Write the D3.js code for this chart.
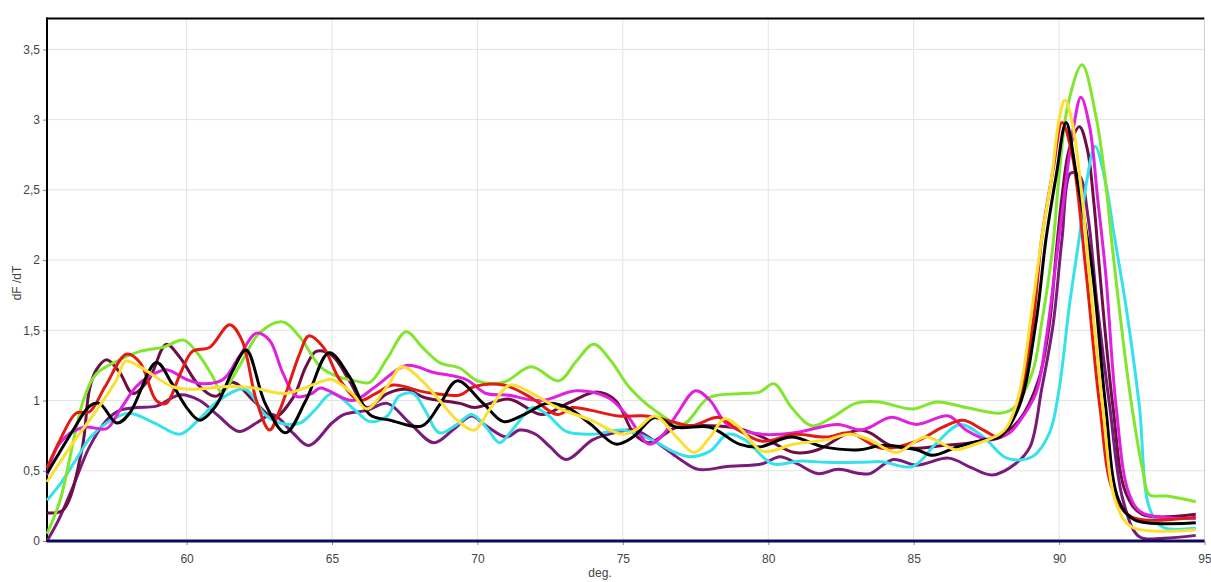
<!DOCTYPE html>
<html>
<head>
<meta charset="utf-8">
<script src="https://cdn.jsdelivr.net/npm/d3@7"></script>
<style>
  html, body { margin: 0; padding: 0; background: #fff; }
  svg { display: block; font-family: "Liberation Sans", Arial, sans-serif; }
</style>
</head>
<body>
<svg id="chart" width="1211" height="582"></svg>
<script>
// Melt curves: derivative of fluorescence (dF/dT) against temperature (deg.)
const xTicks = [60, 65, 70, 75, 80, 85, 90, 95];
const yTicks = [0, 0.5, 1, 1.5, 2, 2.5, 3, 3.5];
const xTitle = "deg.";
const yTitle = "dF /dT";

// Each series: [temperature, dF/dT]
const purpleCurve = [[55.2,0.0],[55.6,0.15],[56.1,0.39],[56.66,0.67],[57.25,0.86],[57.7,0.93],[58.27,0.95],[58.96,0.96],[59.76,1.04],[60.45,1.0],[61.1,0.89],[61.8,0.78],[62.4,0.84],[62.96,0.9],[63.65,0.77],[64.2,0.68],[65.0,0.84],[65.4,0.9],[66.2,0.93],[66.9,0.98],[67.67,0.84],[68.5,0.70],[69.15,0.79],[69.8,0.89],[70.3,0.82],[71.0,0.74],[71.45,0.79],[72.0,0.76],[72.5,0.67],[73.05,0.58],[73.96,0.72],[74.7,0.77],[75.4,0.79],[76.1,0.71],[77.05,0.57],[77.6,0.51],[78.6,0.53],[79.8,0.55],[80.4,0.6],[81.0,0.55],[81.7,0.48],[82.4,0.51],[83.15,0.48],[83.5,0.48],[84.3,0.58],[85.1,0.54],[86.2,0.59],[87.0,0.52],[87.7,0.47],[88.5,0.55],[89.0,0.67],[89.4,1.08],[89.8,1.55],[90.1,2.15],[90.4,2.62],[90.7,2.6],[91.0,2.3],[91.3,1.7],[91.74,0.96],[92.2,0.29],[92.76,0.03],[93.6,0.02],[94.7,0.04]];

const maroonCurve = [[55.2,0.2],[55.75,0.22],[56.4,0.65],[56.66,1.08],[56.9,1.22],[57.25,1.29],[57.7,1.2],[58.15,1.05],[58.7,1.15],[59.3,1.4],[59.76,1.31],[60.45,1.1],[61.0,1.03],[61.58,1.13],[62.3,1.0],[63.0,0.88],[63.66,1.02],[64.1,1.24],[64.46,1.35],[65.0,1.32],[65.6,1.14],[66.2,0.95],[66.9,1.05],[67.55,1.08],[68.2,1.02],[69.4,0.98],[69.9,0.95],[71.1,1.01],[72.2,0.9],[73.1,0.98],[74.1,1.06],[74.75,1.0],[75.4,0.76],[75.9,0.70],[76.85,0.81],[78.0,0.82],[79.0,0.80],[79.8,0.74],[80.9,0.63],[81.7,0.65],[82.65,0.76],[83.15,0.79],[83.5,0.77],[84.2,0.68],[85.0,0.66],[86.0,0.68],[87.0,0.70],[87.95,0.75],[88.63,0.86],[89.3,1.15],[89.67,1.55],[89.9,2.05],[90.1,2.45],[90.35,2.79],[90.7,2.95],[90.97,2.79],[91.2,2.4],[91.4,1.91],[91.85,0.96],[92.3,0.34],[92.86,0.19],[94.7,0.19]];

const cyanCurve = [[55.2,0.29],[55.7,0.42],[56.2,0.58],[56.7,0.74],[57.25,0.84],[58.0,0.91],[58.9,0.84],[59.76,0.76],[60.4,0.86],[61.1,1.0],[62.0,1.08],[62.7,0.90],[63.2,0.84],[63.9,0.84],[64.4,0.93],[65.0,1.05],[65.8,0.93],[66.3,0.85],[66.9,0.89],[67.3,1.03],[67.8,1.05],[68.2,0.93],[68.7,0.77],[69.3,0.83],[69.8,0.9],[70.3,0.81],[70.76,0.7],[71.2,0.79],[71.9,0.95],[72.4,0.9],[73.05,0.78],[73.96,0.76],[75.0,0.79],[76.1,0.71],[76.7,0.64],[77.3,0.6],[78.0,0.64],[78.6,0.76],[79.2,0.72],[80.15,0.55],[81.1,0.57],[82.0,0.56],[83.15,0.56],[83.9,0.565],[84.96,0.53],[85.8,0.70],[86.6,0.83],[87.4,0.74],[88.2,0.59],[89.08,0.6],[89.67,0.77],[90.0,1.08],[90.35,1.67],[90.7,2.17],[90.94,2.55],[91.24,2.81],[91.6,2.55],[91.9,2.17],[92.3,1.67],[92.76,0.96],[93.1,0.24],[93.55,0.10],[94.7,0.09]];

const greenCurve = [[55.2,0.05],[55.65,0.29],[56.45,1.0],[56.9,1.19],[57.6,1.28],[58.4,1.35],[59.2,1.38],[59.9,1.43],[60.4,1.33],[60.9,1.17],[61.2,1.06],[61.8,1.24],[62.5,1.48],[63.3,1.56],[63.9,1.45],[64.6,1.24],[65.2,1.17],[65.8,1.14],[66.3,1.13],[66.9,1.3],[67.55,1.49],[68.1,1.38],[68.7,1.27],[69.4,1.23],[70.0,1.14],[70.9,1.13],[71.85,1.24],[72.8,1.14],[73.4,1.28],[74.0,1.40],[74.6,1.28],[75.2,1.10],[76.1,0.93],[77.05,0.83],[77.95,1.02],[79.1,1.05],[79.7,1.06],[80.2,1.12],[80.8,0.95],[81.5,0.82],[82.2,0.88],[83.0,0.98],[83.8,0.99],[84.96,0.94],[85.8,0.99],[86.8,0.95],[87.95,0.91],[88.4,0.94],[89.08,1.2],[89.4,1.55],[89.77,2.07],[90.0,2.6],[90.3,3.1],[90.79,3.39],[91.27,3.02],[91.6,2.55],[91.8,2.15],[92.2,1.43],[92.5,0.96],[92.9,0.48],[93.1,0.33],[93.7,0.32],[94.7,0.28]];

const magentaCurve = [[55.2,0.47],[55.65,0.70],[56.45,0.81],[57.25,0.8],[57.7,0.93],[58.27,1.1],[58.7,1.17],[59.3,1.22],[60.0,1.15],[60.55,1.12],[61.25,1.15],[61.8,1.31],[62.4,1.48],[62.85,1.43],[63.3,1.2],[63.77,1.03],[64.3,1.05],[64.6,1.09],[65.7,1.0],[66.5,1.1],[67.55,1.25],[68.5,1.2],[69.6,1.15],[70.3,1.05],[71.0,1.04],[72.2,1.0],[73.4,1.07],[74.5,1.02],[75.2,0.88],[75.9,0.69],[76.4,0.76],[76.85,0.9],[77.5,1.07],[78.0,1.0],[78.6,0.83],[79.8,0.76],[80.9,0.77],[82.4,0.83],[83.15,0.79],[83.5,0.81],[84.2,0.88],[85.1,0.83],[86.2,0.89],[86.8,0.79],[87.6,0.72],[88.3,0.77],[88.6,0.84],[89.2,1.05],[89.55,1.43],[89.9,2.0],[90.2,2.5],[90.5,2.95],[90.75,3.16],[91.05,2.95],[91.33,2.43],[91.6,1.91],[91.96,0.96],[92.4,0.34],[92.86,0.2],[94.7,0.16]];

const redCurve = [[55.2,0.52],[55.65,0.72],[56.2,0.91],[56.66,0.92],[57.2,1.1],[57.93,1.33],[58.4,1.27],[58.96,1.0],[59.3,0.98],[59.8,1.2],[60.2,1.35],[60.8,1.38],[61.48,1.54],[61.9,1.43],[62.4,1.0],[62.85,0.79],[63.2,0.93],[63.9,1.34],[64.2,1.46],[64.7,1.38],[65.26,1.15],[65.95,1.0],[66.5,1.05],[67.1,1.11],[68.2,1.06],[69.4,1.04],[69.9,1.1],[70.9,1.11],[71.85,1.02],[72.75,0.9],[73.25,0.95],[73.9,0.93],[74.85,0.89],[75.8,0.89],[76.7,0.85],[77.35,0.82],[78.3,0.88],[78.9,0.8],[79.8,0.71],[80.9,0.76],[82.0,0.74],[82.8,0.77],[83.9,0.66],[85.1,0.71],[86.0,0.81],[86.7,0.86],[87.4,0.79],[87.95,0.74],[88.6,1.0],[89.1,1.55],[89.4,2.15],[89.8,2.65],[90.1,2.98],[90.45,2.75],[90.93,1.91],[91.4,0.96],[91.85,0.36],[92.5,0.17],[94.7,0.17]];

const blackCurve = [[55.2,0.48],[55.6,0.62],[56.1,0.79],[56.66,0.96],[57.0,0.98],[57.6,0.84],[58.04,0.91],[58.96,1.27],[59.5,1.12],[60.0,0.95],[60.45,0.86],[61.0,0.96],[61.6,1.22],[62.05,1.36],[62.7,0.98],[63.4,0.77],[64.1,1.0],[64.9,1.34],[65.6,1.17],[66.3,0.9],[67.0,0.86],[68.1,0.82],[68.7,0.97],[69.3,1.14],[70.2,0.98],[70.9,0.85],[71.6,0.9],[72.4,0.98],[73.1,0.95],[73.9,0.83],[74.75,0.69],[75.35,0.74],[76.1,0.88],[76.85,0.81],[78.0,0.81],[79.0,0.69],[79.7,0.67],[80.8,0.74],[81.9,0.67],[83.15,0.65],[83.9,0.68],[85.1,0.65],[85.65,0.61],[86.5,0.67],[87.4,0.72],[87.95,0.74],[88.63,0.96],[89.2,1.55],[89.55,2.15],[89.9,2.6],[90.24,2.98],[90.6,2.6],[91.15,1.91],[91.6,0.96],[92.05,0.29],[92.6,0.15],[94.7,0.13]];

const yellowCurve = [[55.2,0.42],[56.1,0.70],[56.9,0.93],[57.6,1.15],[57.9,1.28],[58.4,1.24],[59.5,1.1],[60.2,1.08],[61.4,1.1],[62.3,1.09],[63.4,1.05],[64.7,1.14],[65.0,1.15],[65.7,1.05],[66.2,0.94],[66.9,1.1],[67.4,1.24],[68.1,1.14],[68.7,1.0],[69.3,0.86],[69.9,0.79],[70.4,0.93],[71.1,1.11],[71.7,1.07],[72.75,0.95],[73.9,0.86],[75.0,0.76],[75.5,0.8],[76.1,0.89],[76.85,0.74],[77.45,0.63],[78.0,0.74],[78.5,0.87],[79.0,0.81],[79.8,0.64],[80.9,0.69],[82.0,0.72],[82.8,0.76],[83.5,0.72],[84.4,0.63],[85.4,0.74],[86.45,0.65],[87.0,0.68],[87.95,0.76],[88.2,0.81],[88.63,1.05],[89.08,1.67],[89.4,2.15],[89.75,2.6],[90.0,3.0],[90.2,3.14],[90.45,2.98],[90.8,2.43],[91.04,1.91],[91.5,0.96],[91.96,0.27],[92.5,0.10],[94.7,0.08]];

const baselineCurve = [[55.2,0],[95,0]];

const seriesList = [
  { data: purpleCurve,   color: "#7a1a7a" },
  { data: maroonCurve,   color: "#6c0f46" },
  { data: cyanCurve,     color: "#36e2ea" },
  { data: greenCurve,    color: "#82e52e" },
  { data: magentaCurve,  color: "#e020dc" },
  { data: redCurve,      color: "#e31b14" },
  { data: blackCurve,    color: "#000000" },
  { data: yellowCurve,   color: "#fbe034" },
  { data: baselineCurve, color: "#0b0b5e" }
];

const svg = d3.select("#chart");
const plotLeft = 47, plotRight = 1204.5, plotTop = 18.5, plotBottom = 541;

const x = d3.scaleLinear().domain([55.2, 95]).range([plotLeft, plotRight]);
const y = d3.scaleLinear().domain([0, 3.72]).range([plotBottom, plotTop]);

// grid
const grid = svg.append("g");
grid.selectAll("line.v").data(xTicks).join("line").attr("class", "v")
  .attr("x1", d => x(d)).attr("x2", d => x(d))
  .attr("y1", plotTop).attr("y2", plotBottom)
  .attr("stroke", "#e3e3e3").attr("stroke-width", 1);
grid.selectAll("line.h").data(yTicks.filter(d => d > 0)).join("line").attr("class", "h")
  .attr("x1", plotLeft).attr("x2", plotRight)
  .attr("y1", d => y(d)).attr("y2", d => y(d))
  .attr("stroke", "#e3e3e3").attr("stroke-width", 1);

// axes
const fmt = d => String(d).replace(".", ",");
const yAxis = svg.append("g").attr("transform", `translate(${plotLeft},0)`)
  .call(d3.axisLeft(y).tickValues(yTicks).tickFormat(fmt).tickSize(4).tickPadding(3));
const xAxis = svg.append("g").attr("transform", `translate(0,${plotBottom})`)
  .call(d3.axisBottom(x).tickValues(xTicks).tickFormat(d3.format("d")).tickSize(4).tickPadding(9));
[yAxis, xAxis].forEach(a => {
  a.select(".domain").remove();
  a.selectAll(".tick line").attr("stroke", "#888");
  a.selectAll(".tick text").attr("fill", "#444").style("font-size", "12px")
    .style("font-family", "'Liberation Sans', Arial, sans-serif");
});

// frame: black left and top, light right
svg.append("line").attr("x1", plotLeft).attr("x2", plotLeft).attr("y1", plotTop - 1).attr("y2", plotBottom + 1)
  .attr("stroke", "#000").attr("stroke-width", 2);
svg.append("line").attr("x1", plotLeft - 1).attr("x2", plotRight).attr("y1", plotTop).attr("y2", plotTop)
  .attr("stroke", "#000").attr("stroke-width", 2);
svg.append("line").attr("x1", plotRight).attr("x2", plotRight).attr("y1", plotTop).attr("y2", plotBottom)
  .attr("stroke", "#cfcfcf").attr("stroke-width", 1);

// curves
const line = d3.line()
  .x(d => x(d[0])).y(d => y(d[1]))
  .curve(d3.curveCatmullRom.alpha(0.5));
svg.append("g")
  .selectAll("path").data(seriesList).join("path")
  .attr("d", d => line(d.data))
  .attr("fill", "none")
  .attr("stroke", d => d.color)
  .attr("stroke-width", 3)
  .attr("stroke-linejoin", "round");

// titles
svg.append("text").attr("x", 600).attr("y", 577).attr("text-anchor", "middle")
  .attr("fill", "#444").style("font-size", "12px").text(xTitle);
svg.append("text").attr("transform", "translate(21,283) rotate(-90)")
  .attr("text-anchor", "middle").attr("fill", "#444").style("font-size", "12px").text(yTitle);
</script>
</body>
</html>
